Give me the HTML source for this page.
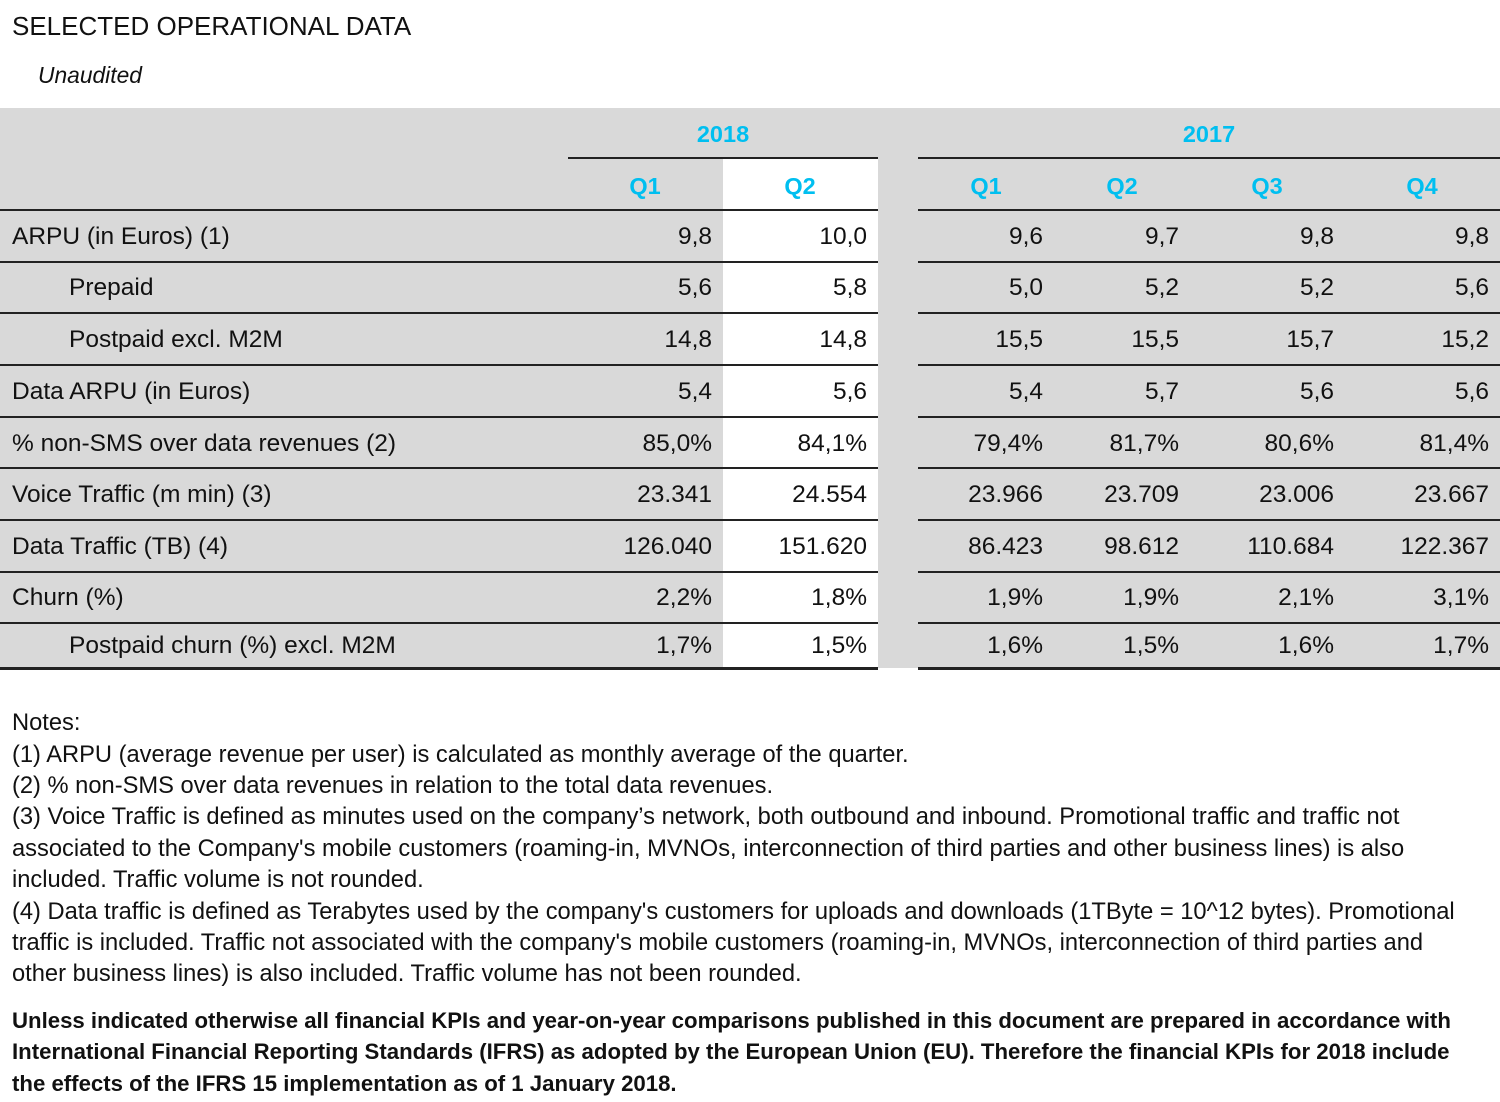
<!DOCTYPE html>
<html><head><meta charset="utf-8"><style>
body{margin:0;width:1500px;height:1102px;background:#fff;position:relative;overflow:hidden;font-family:"Liberation Sans",sans-serif;color:#111}
.a{position:absolute;white-space:nowrap;line-height:30px;height:30px}
.t{font-size:24.5px}
.r{text-align:right;width:200px}
.c{text-align:center;width:200px;color:#00bff0;font-weight:bold;font-size:23.5px}
.h{position:absolute;height:2px;background:#222}
.n{font-size:23.7px;left:12px}
.b{font-weight:bold;font-size:22.2px;left:12px}
</style></head><body>
<div class="a" style="left:12px;top:11px;font-size:26px">SELECTED OPERATIONAL DATA</div>
<div class="a" style="left:38px;top:60px;font-size:22.8px;font-style:italic">Unaudited</div>
<div style="position:absolute;left:0;top:108px;width:1500px;height:560px;background:#d9d9d9"></div>
<div style="position:absolute;left:723px;top:159px;width:155px;height:509px;background:#fff"></div>
<div style="position:absolute;left:878px;top:668px;width:40px;height:3px;background:#fff"></div>

<div class="a c" style="left:623px;top:119px">2018</div>
<div class="a c" style="left:1109px;top:119px">2017</div>
<div class="h" style="left:568px;width:310px;top:157px"></div>
<div class="h" style="left:918px;width:582px;top:157px"></div>
<div class="a c" style="left:545px;top:171px">Q1</div>
<div class="a c" style="left:700px;top:171px">Q2</div>
<div class="a c" style="left:886px;top:171px">Q1</div>
<div class="a c" style="left:1022px;top:171px">Q2</div>
<div class="a c" style="left:1167px;top:171px">Q3</div>
<div class="a c" style="left:1322px;top:171px">Q4</div>

<div class="h" style="left:0;width:878px;top:209px"></div><div class="h" style="left:918px;width:582px;top:209px"></div>
<div class="h" style="left:0;width:878px;top:261px"></div><div class="h" style="left:918px;width:582px;top:261px"></div>
<div class="h" style="left:0;width:878px;top:312px"></div><div class="h" style="left:918px;width:582px;top:312px"></div>
<div class="h" style="left:0;width:878px;top:364px"></div><div class="h" style="left:918px;width:582px;top:364px"></div>
<div class="h" style="left:0;width:878px;top:416px"></div><div class="h" style="left:918px;width:582px;top:416px"></div>
<div class="h" style="left:0;width:878px;top:467px"></div><div class="h" style="left:918px;width:582px;top:467px"></div>
<div class="h" style="left:0;width:878px;top:519px"></div><div class="h" style="left:918px;width:582px;top:519px"></div>
<div class="h" style="left:0;width:878px;top:571px"></div><div class="h" style="left:918px;width:582px;top:571px"></div>
<div class="h" style="left:0;width:878px;top:622px"></div><div class="h" style="left:918px;width:582px;top:622px"></div>
<div class="h" style="left:0;width:878px;top:667px;height:3px"></div><div class="h" style="left:918px;width:582px;top:667px;height:3px"></div>

<div id="rows"></div>
<script>
var rows=[
[237,12,"ARPU (in Euros) (1)",["9,8","10,0","9,6","9,7","9,8","9,8"]],
[288,69,"Prepaid",["5,6","5,8","5,0","5,2","5,2","5,6"]],
[340,69,"Postpaid excl. M2M",["14,8","14,8","15,5","15,5","15,7","15,2"]],
[392,12,"Data ARPU (in Euros)",["5,4","5,6","5,4","5,7","5,6","5,6"]],
[444,12,"% non-SMS over data revenues (2)",["85,0%","84,1%","79,4%","81,7%","80,6%","81,4%"]],
[495,12,"Voice Traffic (m min) (3)",["23.341","24.554","23.966","23.709","23.006","23.667"]],
[547,12,"Data Traffic (TB) (4)",["126.040","151.620","86.423","98.612","110.684","122.367"]],
[598,12,"Churn (%)",["2,2%","1,8%","1,9%","1,9%","2,1%","3,1%"]],
[646,69,"Postpaid churn (%) excl. M2M",["1,7%","1,5%","1,6%","1,5%","1,6%","1,7%"]]];
var R=[712,867,1043,1179,1334,1489],h="";
rows.forEach(function(r){var t=r[0]-15;
h+='<div class="a t" style="left:'+r[1]+'px;top:'+t+'px">'+r[2]+'</div>';
r[3].forEach(function(v,i){h+='<div class="a t r" style="left:'+(R[i]-200)+'px;top:'+t+'px">'+v+'</div>';});});
document.getElementById("rows").innerHTML=h;
</script>

<div class="a n" style="top:708px">Notes:</div>
<div class="a n" style="top:740px">(1) ARPU (average revenue per user) is calculated as monthly average of the quarter.</div>
<div class="a n" style="top:771px">(2) % non-SMS over data revenues in relation to the total data revenues.</div>
<div class="a n" style="top:802px">(3) Voice Traffic is defined as minutes used on the company’s network, both outbound and inbound. Promotional traffic and traffic not</div>
<div class="a n" style="top:834px">associated to the Company's mobile customers (roaming-in, MVNOs, interconnection of third parties and other business lines) is also</div>
<div class="a n" style="top:865px">included. Traffic volume is not rounded.</div>
<div class="a n" style="top:897px">(4) Data traffic is defined as Terabytes used by the company's customers for uploads and downloads (1TByte = 10^12 bytes). Promotional</div>
<div class="a n" style="top:928px">traffic is included. Traffic not associated with the company's mobile customers (roaming-in, MVNOs, interconnection of third parties and</div>
<div class="a n" style="top:959px">other business lines) is also included. Traffic volume has not been rounded.</div>
<div class="a b" style="top:1006px">Unless indicated otherwise all financial KPIs and year-on-year comparisons published in this document are prepared in accordance with</div>
<div class="a b" style="top:1037px">International Financial Reporting Standards (IFRS) as adopted by the European Union (EU). Therefore the financial KPIs for 2018 include</div>
<div class="a b" style="top:1069px">the effects of the IFRS 15 implementation as of 1 January 2018.</div>
</body></html>
